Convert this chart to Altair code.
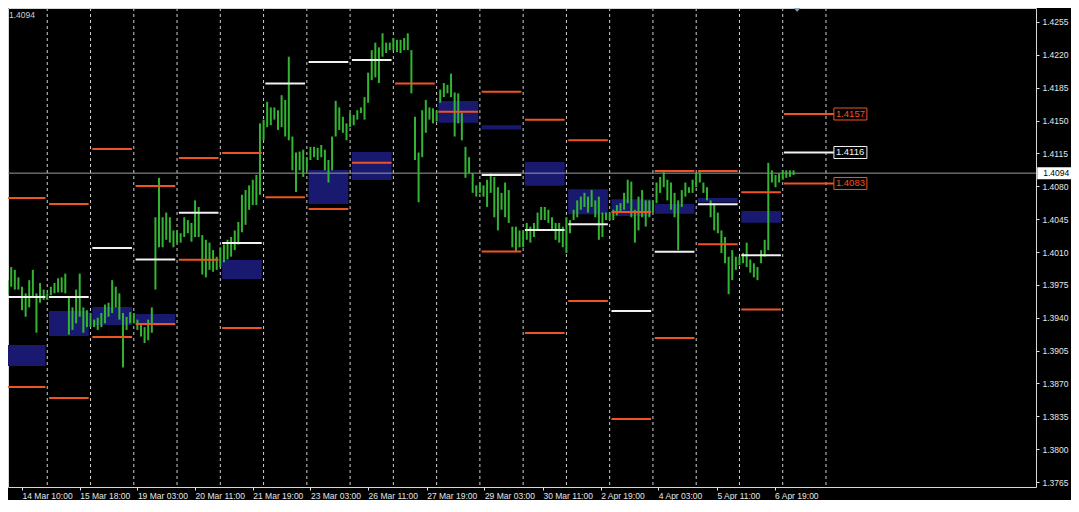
import altair as alt
import pandas as pd

# ---------------- data ----------------
# 2-hour price bars, t = hours since the first day separator (14 Mar 00:00)
BAR_T = list(range(0, 440, 2))
BAR_HIGH = [
    # 14 Mar
    1.3970, 1.3980, 1.3994, 1.3991, 1.3983, 1.3973, 1.3966, 1.3980, 1.3991, 1.3966, 1.3977, 1.3970,
    # 15 Mar
    1.3966, 1.3973, 1.3977, 1.3982, 1.3983, 1.3987, 1.3961, 1.3951, 1.3970, 1.3987, 1.3951, 1.3948,
    # 16 Mar
    1.3945, 1.3938, 1.3940, 1.3945, 1.3954, 1.3956, 1.3980, 1.3973, 1.3966, 1.3945, 1.3941, 1.3946,
    # 19 Mar
    1.3945, 1.3938, 1.3934, 1.3930, 1.3938, 1.3951, 1.4047, 1.4089, 1.4047, 1.4052, 1.4047, 1.4033,
    # 20 Mar
    1.4033, 1.4030, 1.4047, 1.4044, 1.4041, 1.4065, 1.4058, 1.4028, 1.4023, 1.4020, 1.4012, 1.4005,
    # 21 Mar
    1.4015, 1.4018, 1.4023, 1.4026, 1.4033, 1.4042, 1.4071, 1.4076, 1.4081, 1.4087, 1.4092, 1.4147,
    # 22 Mar
    1.4151, 1.4170, 1.4164, 1.4164, 1.4161, 1.4177, 1.4172, 1.4218, 1.4133, 1.4116, 1.4117, 1.4119,
    # 23 Mar
    1.4111, 1.4122, 1.4122, 1.4121, 1.4124, 1.4119, 1.4108, 1.4133, 1.4171, 1.4164, 1.4154, 1.4147,
    # 26 Mar
    1.4158, 1.4156, 1.4161, 1.4164, 1.4175, 1.4201, 1.4225, 1.4233, 1.4228, 1.4243, 1.4233, 1.4233,
    # 27 Mar
    1.4238, 1.4236, 1.4236, 1.4238, 1.4243, 1.4225, 1.4154, 1.4116, 1.4161, 1.4172, 1.4164, 1.4163,
    # 28 Mar
    1.4161, 1.4183, 1.4190, 1.4188, 1.4200, 1.4180, 1.4179, 1.4158, 1.4122, 1.4111, 1.4094, 1.4081,
    # 29 Mar
    1.4084, 1.4081, 1.4087, 1.4094, 1.4090, 1.4079, 1.4073, 1.4084, 1.4076, 1.4037, 1.4037, 1.4033,
    # 30 Mar
    1.4033, 1.4041, 1.4037, 1.4041, 1.4052, 1.4058, 1.4058, 1.4055, 1.4047, 1.4041, 1.4041, 1.4037,
    # 2 Apr
    1.4047, 1.4044, 1.4055, 1.4065, 1.4069, 1.4073, 1.4069, 1.4076, 1.4065, 1.4069, 1.4052, 1.4052,
    # 3 Apr
    1.4052, 1.4055, 1.4060, 1.4062, 1.4073, 1.4087, 1.4085, 1.4055, 1.4069, 1.4076, 1.4065, 1.4065,
    # 4 Apr
    1.4065, 1.4084, 1.4090, 1.4095, 1.4087, 1.4084, 1.4073, 1.4065, 1.4076, 1.4084, 1.4079, 1.4087,
    # 5 Apr
    1.4094, 1.4095, 1.4084, 1.4079, 1.4065, 1.4062, 1.4052, 1.4033, 1.4026, 1.4005, 1.4012, 1.4005,
    # 6 Apr
    1.4005, 1.4009, 1.4020, 1.4002, 1.3998, 1.3994, 1.4012, 1.4023, 1.4105, 1.4097, 1.4092, 1.4094,
    # current day
    1.4097, 1.4097, 1.4097, 1.4097,
]
BAR_LOW = [
    1.3959, 1.3964, 1.3973, 1.3970, 1.3970, 1.3948, 1.3941, 1.3951, 1.3962, 1.3924, 1.3956, 1.3959,
    1.3959, 1.3964, 1.3966, 1.3967, 1.3967, 1.3966, 1.3922, 1.3927, 1.3934, 1.3941, 1.3924, 1.3930,
    1.3930, 1.3930, 1.3927, 1.3930, 1.3934, 1.3941, 1.3945, 1.3951, 1.3938, 1.3887, 1.3927, 1.3934,
    1.3934, 1.3927, 1.3920, 1.3913, 1.3916, 1.3924, 1.3970, 1.4015, 1.4015, 1.4023, 1.4020, 1.4015,
    1.4020, 1.4020, 1.4026, 1.4030, 1.4021, 1.4026, 1.4026, 1.3986, 1.3983, 1.3991, 1.3989, 1.3991,
    1.3994, 1.3999, 1.4002, 1.4005, 1.4012, 1.4018, 1.4031, 1.4039, 1.4055, 1.4060, 1.4060, 1.4071,
    1.4129, 1.4143, 1.4145, 1.4151, 1.4140, 1.4143, 1.4133, 1.4129, 1.4097, 1.4074, 1.4097, 1.4090,
    1.4097, 1.4108, 1.4111, 1.4108, 1.4111, 1.4097, 1.4084, 1.4097, 1.4133, 1.4140, 1.4137, 1.4129,
    1.4143, 1.4145, 1.4151, 1.4158, 1.4151, 1.4169, 1.4193, 1.4196, 1.4190, 1.4218, 1.4222, 1.4225,
    1.4225, 1.4223, 1.4222, 1.4225, 1.4225, 1.4179, 1.4108, 1.4063, 1.4111, 1.4137, 1.4151, 1.4147,
    1.4149, 1.4169, 1.4175, 1.4179, 1.4175, 1.4133, 1.4147, 1.4129, 1.4089, 1.4094, 1.4073, 1.4069,
    1.4073, 1.4069, 1.4058, 1.4073, 1.4047, 1.4033, 1.4055, 1.4047, 1.4041, 1.4015, 1.4010, 1.4015,
    1.4015, 1.4023, 1.4020, 1.4026, 1.4033, 1.4044, 1.4044, 1.4041, 1.4033, 1.4023, 1.4020, 1.4015,
    1.4009, 1.4030, 1.4044, 1.4047, 1.4055, 1.4058, 1.4052, 1.4058, 1.4047, 1.4023, 1.4026, 1.4044,
    1.4044, 1.4044, 1.4049, 1.4052, 1.4055, 1.4062, 1.4047, 1.4020, 1.4033, 1.4047, 1.4037, 1.4047,
    1.4052, 1.4062, 1.4073, 1.4079, 1.4065, 1.4055, 1.4047, 1.4012, 1.4058, 1.4069, 1.4073, 1.4073,
    1.4079, 1.4084, 1.4073, 1.4065, 1.4047, 1.4033, 1.4030, 1.4009, 1.3998, 1.3965, 1.3980, 1.3991,
    1.3996, 1.3998, 1.3994, 1.3988, 1.3983, 1.3980, 1.3998, 1.4005, 1.4012, 1.4084, 1.4079, 1.4084,
    1.4087, 1.4089, 1.4090, 1.4092,
]

# daily levels (day index 0 = 14 Mar ... 17 = 6 Apr)
DAYS = list(range(18))
WHITE_LEVEL = [1.39621, 1.39620, 1.40143, 1.40020, 1.40519, 1.40196, 1.41895, 1.42124, 1.42145,
               None, None, 1.40920, 1.40334, 1.40395, 1.39472, 1.40103, 1.40608, 1.40065]
ORANGE_UPPER = [1.40675, 1.40611, 1.41197, 1.40803, 1.41101, 1.41155, 1.40683, 1.40558, 1.41051,
                1.41895, 1.41595, 1.41808, 1.41509, 1.41290, 1.40526, 1.40963, 1.40963, 1.40736]
ORANGE_LOWER = [1.38662, 1.38545, 1.39195, 1.39333, 1.40018, 1.39290, None, None, None,
                None, None, 1.40105, 1.39237, 1.39578, 1.38321, 1.39184, 1.40182, 1.39488]

ZONE_DAY = [0, 1, 2, 3, 5, 7, 8, 10, 11, 12, 13, 14, 15, 16, 17]
ZONE_TOP = [1.39109, 1.39472, 1.39514, 1.39440, 1.40015, 1.40973, 1.41165, 1.41708, 1.41450,
            1.41059, 1.40768, 1.40661, 1.40611, 1.40675, 1.40537]
ZONE_BOTTOM = [1.38886, 1.39205, 1.39322, 1.39333, 1.39812, 1.40611, 1.40867, 1.41477, 1.41405,
               1.40806, 1.40502, 1.40484, 1.40508, 1.40627, 1.40412]

TODAY_LEVEL = [1.4157, 1.4116, 1.4083]
TODAY_KIND = ["orange", "white", "orange"]
TODAY_LABEL = ["1.4157", "1.4116", "1.4083"]
CURRENT_PRICE = 1.4094

PRICE_TICKS = [1.3765, 1.3800, 1.3835, 1.3870, 1.3905, 1.3940, 1.3975, 1.4010,
               1.4045, 1.4080, 1.4115, 1.4150, 1.4185, 1.4220, 1.4255]
DATE_TICK_T = [10, 42, 74, 106, 138, 170, 202, 234.5, 266.5, 299, 331, 363, 395.5, 427.5]
DATE_TICK_LABELS = ["14 Mar 10:00", "15 Mar 18:00", "19 Mar 03:00", "20 Mar 11:00",
                    "21 Mar 19:00", "23 Mar 03:00", "26 Mar 11:00", "27 Mar 19:00",
                    "29 Mar 03:00", "30 Mar 11:00", "2 Apr 19:00", "4 Apr 03:00",
                    "5 Apr 11:00", "6 Apr 19:00"]
SEPARATOR_DAY = list(range(20))

# ---------------- styling / layout constants ----------------
HPD = 24
SEG_START, SEG_END = 1.0, 23.0
TODAY_T0, TODAY_T1 = 432.7, 460.4
LBL_T0, LBL_T1 = 460.4, 478.7
AXBOX_T0, AXBOX_T1 = 573.2, 596.0
SHIFT_T = 440
BG = "#000000"
GREEN = "#33b533"
ORANGE = "#ee5522"
WHITE = "#f2f2f2"
ZONE = "#191970"
FONT = "Liberation Sans"
TXT = "#e6e6e6"

X_SCALE = alt.Scale(domain=[2.219, 572.51], nice=False, zero=False)
Y_SCALE = alt.Scale(domain=[1.37597, 1.42699], nice=False, zero=False)

label_expr = ("[" + ",".join("'%s'" % s for s in DATE_TICK_LABELS) + "][indexof(["
              + ",".join(str(v) for v in DATE_TICK_T) + "], datum.value)]")

X_AXIS = alt.Axis(orient="bottom", values=DATE_TICK_T, labelExpr=label_expr, labelAlign="left",
                  labelBaseline="top", labelPadding=1, tickSize=3, tickColor=TXT, labelColor=TXT,
                  labelFont=FONT, labelFontSize=8.5, domain=False, grid=False,
                  labelOverlap=False, labelFlush=False, labelBound=False)
Y_AXIS = alt.Axis(orient="right", values=PRICE_TICKS, format=".4f", labelPadding=3, tickSize=3,
                  tickColor=TXT, labelColor=TXT, labelFont=FONT, labelFontSize=8.5,
                  domain=False, grid=False, labelOverlap=False, labelFlush=False, labelBound=False)


def X(field):
    return alt.X(field, type="quantitative", scale=X_SCALE, axis=X_AXIS, title=None)


def Y(field):
    return alt.Y(field, type="quantitative", scale=Y_SCALE, axis=Y_AXIS, title=None)


# ---------------- tables ----------------
bars = pd.DataFrame({"t": BAR_T, "high": BAR_HIGH, "low": BAR_LOW})
seps = pd.DataFrame({"t": [d * HPD for d in SEPARATOR_DAY]})
zones = pd.DataFrame({"t0": [d * HPD + SEG_START for d in ZONE_DAY],
                      "t1": [d * HPD + SEG_END for d in ZONE_DAY],
                      "top": ZONE_TOP, "bottom": ZONE_BOTTOM})
rows = []
for d, w, hi, lo in zip(DAYS, WHITE_LEVEL, ORANGE_UPPER, ORANGE_LOWER):
    for kind, v in (("white", w), ("orange", hi), ("orange", lo)):
        if v is not None:
            rows.append({"t0": d * HPD + SEG_START, "t1": d * HPD + SEG_END, "price": v, "kind": kind})
for v, k in zip(TODAY_LEVEL, TODAY_KIND):
    rows.append({"t0": TODAY_T0, "t1": TODAY_T1, "price": v, "kind": k})
segs = pd.DataFrame(rows)
labels = pd.DataFrame({"t0": [LBL_T0] * 3, "t1": [LBL_T1] * 3, "price": TODAY_LEVEL,
                       "kind": TODAY_KIND, "label": TODAY_LABEL})
cur = pd.DataFrame({"price": [CURRENT_PRICE], "t0": [AXBOX_T0], "t1": [AXBOX_T1],
                    "label": ["%.4f" % CURRENT_PRICE]})
shift = pd.DataFrame({"t": [SHIFT_T]})

kind_color = alt.Color("kind:N", scale=alt.Scale(domain=["white", "orange"], range=[WHITE, ORANGE]),
                       legend=None)

sep_layer = alt.Chart(seps).mark_rule(color="#d0d0d0", strokeWidth=1, strokeDash=[3, 3]).encode(x=X("t"))
zone_layer = alt.Chart(zones).mark_rect(color=ZONE).encode(
    x=X("t0"), x2=alt.X2("t1"), y=Y("top"), y2=alt.Y2("bottom"))
cur_line = alt.Chart(cur).mark_rule(color="#9a9a9a", strokeWidth=1).encode(y=Y("price"))
bar_layer = alt.Chart(bars).mark_rule(color=GREEN, strokeWidth=2).encode(
    x=X("t"), y=Y("high"), y2=alt.Y2("low"))
seg_layer = alt.Chart(segs).mark_rule(strokeWidth=2).encode(
    x=X("t0"), x2=alt.X2("t1"), y=Y("price"), color=kind_color)
box_layer = alt.Chart(labels).mark_rect(fill=BG, strokeWidth=1, yOffset=-6, y2Offset=6).encode(
    x=X("t0"), x2=alt.X2("t1"), y=Y("price"), y2=alt.Y2("price"),
    stroke=alt.Stroke("kind:N", scale=alt.Scale(domain=["white", "orange"], range=[WHITE, ORANGE]),
                      legend=None))
lbl_text = alt.Chart(labels).mark_text(align="left", baseline="middle", dx=2, font=FONT,
                                       fontSize=9.5).encode(
    x=X("t0"), y=Y("price"), text="label:N", color=kind_color)
axbox = alt.Chart(cur).mark_rect(fill="#ffffff", yOffset=-6, y2Offset=6, clip=False).encode(
    x=X("t0"), x2=alt.X2("t1"), y=Y("price"), y2=alt.Y2("price"))
axtext = alt.Chart(cur).mark_text(align="left", baseline="middle", dx=6, font=FONT, fontSize=8.5,
                                  color="#000000", clip=False).encode(
    x=X("t0"), y=Y("price"), text="label:N")
corner = alt.Chart(cur).mark_text(align="left", baseline="middle", font=FONT, fontSize=8.5,
                                  color="#cfcfcf").encode(
    x=alt.value(1), y=alt.value(7), text="label:N")
shift_mark = alt.Chart(shift).mark_point(shape="M-1,-0.55L1,-0.55L0,0.55Z", filled=True, size=64,
                                         color="#8fa3b8", opacity=1).encode(
    x=X("t"), y=alt.value(1.5))

chart = alt.layer(
    sep_layer, zone_layer, cur_line, bar_layer, seg_layer, box_layer, lbl_text,
    axbox, axtext, corner, shift_mark
).properties(
    width=1028, height=479,
    padding={"left": 0, "top": 0, "right": 35, "bottom": 13},
    autosize=alt.AutoSizeParams(type="none"),
    background=BG,
).configure_view(stroke="#d6d6d6", strokeWidth=1)

chart.save("out.html", embed_options={"renderer": "svg", "actions": False})
